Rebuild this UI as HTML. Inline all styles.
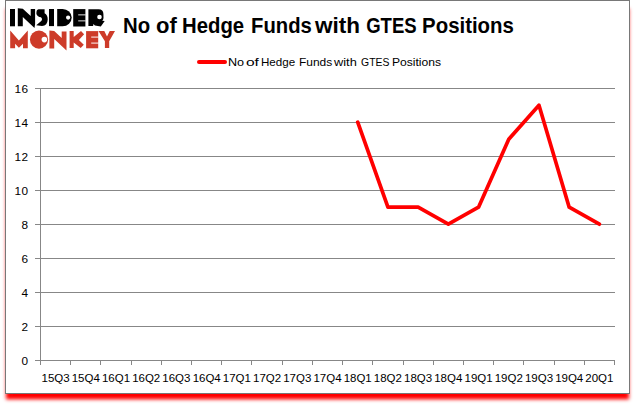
<!DOCTYPE html>
<html><head><meta charset="utf-8"><style>
html,body{margin:0;padding:0;background:#fff;width:635px;height:405px;overflow:hidden}
#frame{position:absolute;left:5px;top:0px;width:623px;height:392px;border:1px solid #787878;background:#fff;box-shadow:0 6.6px 3.6px -1px #ff0000}
svg{position:absolute;left:0;top:0}
.g{stroke:#878787;stroke-width:1;fill:none;shape-rendering:crispEdges}
text{font-family:"Liberation Sans",sans-serif;fill:#000}
.yl{font-size:11.8px;text-anchor:end;letter-spacing:0.5px}
.xl{font-size:11.5px;text-anchor:middle}
.d{stroke:#ff0000;stroke-width:3.7;fill:none;stroke-linejoin:round;stroke-linecap:round}
.t{font-size:22px;font-weight:bold}
.lg{font-size:11.6px}
</style></head><body>
<div id="frame"></div>
<svg width="635" height="405" viewBox="0 0 635 405">
<g id="logo">
<g fill="#000">
<rect x="10" y="9" width="5" height="17.3"/>
<path d="M17.8 8.3 L22.8 8.8 L30.7 16 L30.7 9 L35.1 9 L35.1 24 L34.5 28 L22.8 17 L22.8 26.3 L17.8 26.3 Z"/>
<path d="M38.5 9.2 L44.6 9.2 L44.6 13.2 Q47.8 15 47.7 19.5 Q47.5 25.5 42 26 L36.2 25.3 Q39 23 41.5 20.8 Q43 19 41 17.3 Q37.5 17 36.4 14 Q36.2 9.5 38.5 9.2 Z"/>
<rect x="49" y="9" width="5" height="17.1"/>
<path d="M57.2 9 L62.6 9 A9.1 8.6 0 0 1 62.6 26.2 L57.2 26.2 Z"/>
<path d="M73.2 9.1 L85.4 9.1 L85.4 26.5 L73.2 26.5 Z"/>
<path d="M88.4 9.2 L98.5 9.2 Q103.4 9.4 103.4 14 L103.5 17.9 Q103.3 19.8 102.2 20.8 L104.7 21.1 L100.8 26.6 L94.9 25.4 L93.4 24 L93.1 26 L88.4 26 Z"/>
</g>
<g fill="#fff">
<circle cx="68.1" cy="17.6" r="2.1"/>
<circle cx="99.5" cy="17" r="2.3"/>
<rect x="78.2" y="14.3" width="7.5" height="1.1" opacity="0.8"/>
<rect x="78.2" y="20.3" width="7.5" height="1.1" opacity="0.8"/>
</g>
<g fill="#cd3b29">
<path d="M10.2 30.4 L18.9 40.5 L27.8 30.4 L27.8 48.3 L23 48.3 L23 43.8 L18.9 47.8 L15.1 43.8 L15.1 48.3 L10.2 48.3 Z"/>
<circle cx="39" cy="39.6" r="9.1"/>
<path d="M49.4 30.5 L54.2 31 L61.7 38 L61.7 31.5 L66.5 31.5 L66.5 46 L66.5 50.4 L54.2 39 L54.2 48.5 L49.4 48.5 Z"/>
<path d="M69.6 31.1 L73.7 31.1 L73.7 37 L81 31.1 L84.1 34.2 L78.9 39.9 L83.8 44.8 L80.7 47.9 L73.7 42.5 L73.7 47.9 L69.6 47.9 Z"/>
<path d="M86.1 31.1 L98.2 31.1 L98.2 48.3 L86.1 48.3 Z"/>
<path d="M98.5 31.1 L104.3 31.1 L107 36.5 L109.7 31.1 L115 31.1 L109.2 41.3 L109.2 48 L104.9 48 L104.9 41.3 Z"/>
</g>
<g fill="#fff">
<circle cx="44.4" cy="39.6" r="2.8"/>
<rect x="91.2" y="36.5" width="7.5" height="1.2" opacity="0.8"/>
<rect x="91.2" y="42.5" width="7.5" height="1.2" opacity="0.8"/>
</g>

</g>
<g class="t"><text x="123.07" y="33" textLength="27.16" lengthAdjust="spacingAndGlyphs">No</text><text x="156.0" y="33" textLength="20.77" lengthAdjust="spacingAndGlyphs">of</text><text x="182.08" y="33" textLength="62.08" lengthAdjust="spacingAndGlyphs">Hedge</text><text x="251.08" y="33" textLength="60.76" lengthAdjust="spacingAndGlyphs">Funds</text><text x="315.0" y="33" textLength="45.05" lengthAdjust="spacingAndGlyphs">with</text><text x="366.16" y="33" textLength="50.45" lengthAdjust="spacingAndGlyphs">GTES</text><text x="422.07" y="33" textLength="91.8" lengthAdjust="spacingAndGlyphs">Positions</text></g>
<line x1="199" y1="62" x2="225" y2="62" stroke="#ff0000" stroke-width="4" stroke-linecap="round"/>
<g class="lg"><text x="227.91" y="66" textLength="16.15" lengthAdjust="spacingAndGlyphs">No</text><text x="245.9" y="66" textLength="13.0" lengthAdjust="spacingAndGlyphs">of</text><text x="261.0" y="66" textLength="34.17" lengthAdjust="spacingAndGlyphs">Hedge</text><text x="298.97" y="66" textLength="33.31" lengthAdjust="spacingAndGlyphs">Funds</text><text x="334.0" y="66" textLength="22.8" lengthAdjust="spacingAndGlyphs">with</text><text x="361.07" y="66" textLength="28.35" lengthAdjust="spacingAndGlyphs">GTES</text><text x="391.96" y="66" textLength="49.14" lengthAdjust="spacingAndGlyphs">Positions</text></g>
<line x1="35" y1="360.5" x2="614.5" y2="360.5" class="g"/>
<text x="28.5" y="364.8" class="yl">0</text>
<line x1="35" y1="326.5" x2="614.5" y2="326.5" class="g"/>
<text x="28.5" y="330.8" class="yl">2</text>
<line x1="35" y1="292.5" x2="614.5" y2="292.5" class="g"/>
<text x="28.5" y="296.8" class="yl">4</text>
<line x1="35" y1="258.5" x2="614.5" y2="258.5" class="g"/>
<text x="28.5" y="262.8" class="yl">6</text>
<line x1="35" y1="224.5" x2="614.5" y2="224.5" class="g"/>
<text x="28.5" y="228.8" class="yl">8</text>
<line x1="35" y1="190.5" x2="614.5" y2="190.5" class="g"/>
<text x="28.5" y="194.8" class="yl">10</text>
<line x1="35" y1="156.5" x2="614.5" y2="156.5" class="g"/>
<text x="28.5" y="160.8" class="yl">12</text>
<line x1="35" y1="122.5" x2="614.5" y2="122.5" class="g"/>
<text x="28.5" y="126.8" class="yl">14</text>
<line x1="35" y1="88.5" x2="614.5" y2="88.5" class="g"/>
<text x="28.5" y="92.8" class="yl">16</text>
<line x1="40.5" y1="88" x2="40.5" y2="365" class="g"/>
<line x1="40.5" y1="360" x2="40.5" y2="365" class="g"/>
<line x1="70.5" y1="360" x2="70.5" y2="365" class="g"/>
<line x1="100.5" y1="360" x2="100.5" y2="365" class="g"/>
<line x1="131.5" y1="360" x2="131.5" y2="365" class="g"/>
<line x1="161.5" y1="360" x2="161.5" y2="365" class="g"/>
<line x1="191.5" y1="360" x2="191.5" y2="365" class="g"/>
<line x1="221.5" y1="360" x2="221.5" y2="365" class="g"/>
<line x1="251.5" y1="360" x2="251.5" y2="365" class="g"/>
<line x1="282.5" y1="360" x2="282.5" y2="365" class="g"/>
<line x1="312.5" y1="360" x2="312.5" y2="365" class="g"/>
<line x1="342.5" y1="360" x2="342.5" y2="365" class="g"/>
<line x1="372.5" y1="360" x2="372.5" y2="365" class="g"/>
<line x1="403.5" y1="360" x2="403.5" y2="365" class="g"/>
<line x1="433.5" y1="360" x2="433.5" y2="365" class="g"/>
<line x1="463.5" y1="360" x2="463.5" y2="365" class="g"/>
<line x1="493.5" y1="360" x2="493.5" y2="365" class="g"/>
<line x1="523.5" y1="360" x2="523.5" y2="365" class="g"/>
<line x1="554.5" y1="360" x2="554.5" y2="365" class="g"/>
<line x1="584.5" y1="360" x2="584.5" y2="365" class="g"/>
<line x1="614.5" y1="360" x2="614.5" y2="365" class="g"/>
<text x="55.6" y="382" class="xl">15Q3</text>
<text x="85.8" y="382" class="xl">15Q4</text>
<text x="116.0" y="382" class="xl">16Q1</text>
<text x="146.2" y="382" class="xl">16Q2</text>
<text x="176.4" y="382" class="xl">16Q3</text>
<text x="206.7" y="382" class="xl">16Q4</text>
<text x="236.9" y="382" class="xl">17Q1</text>
<text x="267.1" y="382" class="xl">17Q2</text>
<text x="297.3" y="382" class="xl">17Q3</text>
<text x="327.5" y="382" class="xl">17Q4</text>
<text x="357.7" y="382" class="xl">18Q1</text>
<text x="387.9" y="382" class="xl">18Q2</text>
<text x="418.1" y="382" class="xl">18Q3</text>
<text x="448.3" y="382" class="xl">18Q4</text>
<text x="478.6" y="382" class="xl">19Q1</text>
<text x="508.8" y="382" class="xl">19Q2</text>
<text x="539.0" y="382" class="xl">19Q3</text>
<text x="569.2" y="382" class="xl">19Q4</text>
<text x="599.4" y="382" class="xl">20Q1</text>
<polyline points="357.71,122.20 387.92,207.20 418.13,207.20 448.34,224.20 478.55,207.20 508.76,139.20 538.97,105.20 569.18,207.20 599.39,224.20" class="d"/>
</svg>
</body></html>
